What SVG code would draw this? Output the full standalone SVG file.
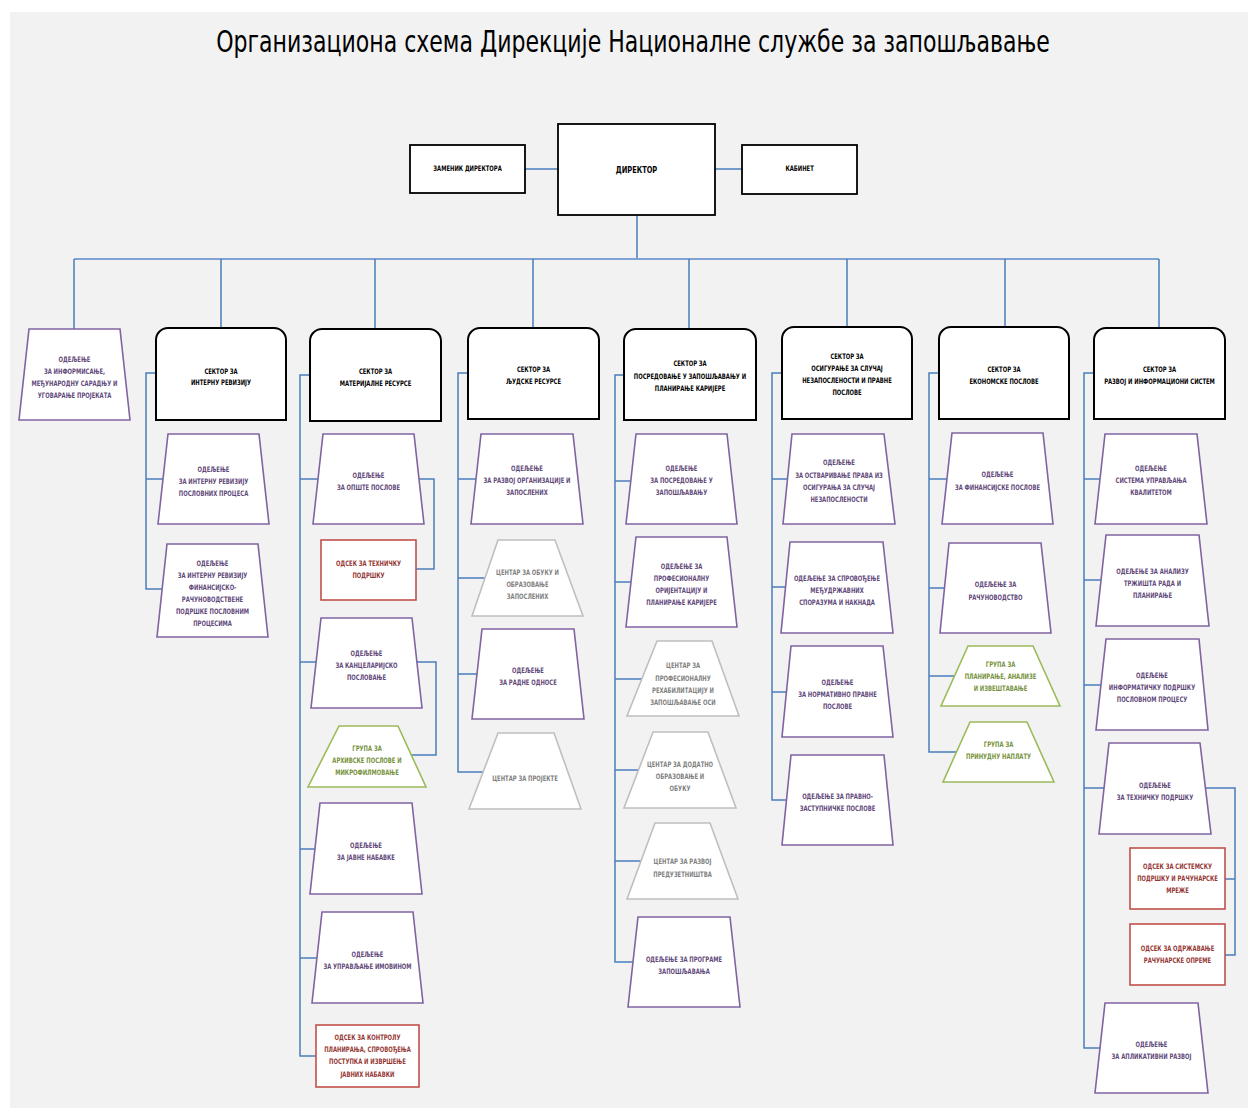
<svg xmlns="http://www.w3.org/2000/svg" width="1248" height="1108" viewBox="0 0 1248 1108">
<style>
.bg{fill:#f2f2f2}
.c{fill:none;stroke:#4a7ebb;stroke-width:1.5}
.bus{fill:none;stroke:#7fa3d3;stroke-width:2.2}
.box{fill:#fff;stroke:#000;stroke-width:1.8}
.sec{fill:#fff;stroke:#000;stroke-width:2}
.od{fill:#fff;stroke:#8064a2;stroke-width:1.6}
.gr{fill:#fff;stroke:#9bbb59;stroke-width:1.6}
.ct{fill:#fff;stroke:#bfbfbf;stroke-width:1.6}
.os{fill:#fff;stroke:#c0504d;stroke-width:1.6}
text{font-family:"DejaVu Sans Condensed","Liberation Sans",sans-serif;font-weight:bold;font-size:7.5px;text-anchor:middle;dominant-baseline:central;transform-box:fill-box;transform-origin:center;transform:scaleX(0.78)}
.tk{fill:#000}
.tp{fill:#5f497a}
.tg{fill:#76923c}
.tc{fill:#7f7f7f}
.tr{fill:#953734}
.title{font-weight:normal;font-size:31px;fill:#000;dominant-baseline:alphabetic;transform:scaleX(0.79)}
</style>
<rect class="bg" x="10" y="12" width="1238" height="1096"/>
<text class="title" x="633" y="52">Организациона схема Дирекције Националне службе за запошљавање</text>

<g id="connectors">
<path class="c" d="M525,169H558M715,169H742M637,215V259"/>
<path class="bus" d="M74,259H1159"/>
<path class="c" d="M74,259V329M221,259V328M375,259V329M533,259V328M689,259V329M847,259V327M1005,259V327M1159,259V328"/>
<path class="c" d="M156,373H146V589H165M146,479H166"/>
<path class="c" d="M310,375H300V1056H320M300,479H330M300,662H330M300,849H330M300,958H330"/>
<path class="c" d="M415,479H434V569H416M415,662H436V755H412"/>
<path class="c" d="M468,373H458V772H490M458,479H485M458,578H490M458,674H485"/>
<path class="c" d="M624,375H615V962H640M615,481H640M615,582H640M615,679H645M615,770H645M615,861H645"/>
<path class="c" d="M782,373H772V800H792M772,479H795M772,587H795M772,692H795"/>
<path class="c" d="M939,373H929V752H960M929,479H955M929,588H955M929,676H960"/>
<path class="c" d="M1094,373H1084V1048H1110M1084,479H1110M1084,580H1110M1084,685H1110M1084,788H1110"/>
<path class="c" d="M1205,788H1235V955H1225M1235,879H1225"/>
</g>

<g id="n_zamenik"><rect class="box" x="410" y="145" width="115" height="48"/><text class="tk" x="467.5" y="169">ЗАМЕНИК ДИРЕКТОРА</text></g>
<g id="n_direktor"><rect class="box" x="558" y="124" width="157" height="91"/><text class="tk" x="636.5" y="170" style="font-size:9.5px">ДИРЕКТОР</text></g>
<g id="n_kabinet"><rect class="box" x="742" y="145" width="115" height="49"/><text class="tk" x="799.5" y="169">КАБИНЕТ</text></g>

<g id="n_informisanje"><polygon class="od" points="29,329 120,329 130,420 19,420"/>
<text class="tp" x="74.5" y="360">ОДЕЉЕЊЕ</text><text class="tp" x="74.5" y="372">ЗА ИНФОРМИСАЊЕ,</text><text class="tp" x="74.5" y="384">МЕЂУНАРОДНУ САРАДЊУ И</text><text class="tp" x="74.5" y="396">УГОВАРАЊЕ ПРОЈЕКАТА</text></g>

<g id="s_revizija"><path class="sec" d="M156,420V340A12,12 0 0 1 168,328H274A12,12 0 0 1 286,340V420Z"/>
<text class="tk" x="221" y="372">СЕКТОР ЗА</text><text class="tk" x="221" y="383">ИНТЕРНУ РЕВИЗИЈУ</text></g>
<g id="n_rev1"><polygon class="od" points="168,434 259,434 269,524 158,524"/>
<text class="tp" x="213.5" y="470">ОДЕЉЕЊЕ</text><text class="tp" x="213.5" y="482">ЗА ИНТЕРНУ  РЕВИЗИЈУ</text><text class="tp" x="213.5" y="494">ПОСЛОВНИХ ПРОЦЕСА</text></g>
<g id="n_rev2"><polygon class="od" points="167,544 258,544 268,637 157,637"/>
<text class="tp" x="212.5" y="564">ОДЕЉЕЊЕ</text><text class="tp" x="212.5" y="576">ЗА ИНТЕРНУ  РЕВИЗИЈУ</text><text class="tp" x="212.5" y="588">ФИНАНСИЈСКО-</text><text class="tp" x="212.5" y="600">РАЧУНОВОДСТВЕНЕ</text><text class="tp" x="212.5" y="612">ПОДРШКЕ ПОСЛОВНИМ</text><text class="tp" x="212.5" y="624">ПРОЦЕСИМА</text></g>

<g id="s_materijalni"><path class="sec" d="M310,421V341A12,12 0 0 1 322,329H429A12,12 0 0 1 441,341V421Z"/>
<text class="tk" x="375.5" y="372">СЕКТОР ЗА</text><text class="tk" x="375.5" y="384">МАТЕРИЈАЛНЕ РЕСУРСЕ</text></g>
<g id="n_opste"><polygon class="od" points="323,434 414,434 424,524 313,524"/>
<text class="tp" x="368.5" y="476">ОДЕЉЕЊЕ</text><text class="tp" x="368.5" y="488">ЗА ОПШТЕ ПОСЛОВЕ</text></g>
<g id="n_tehnicka"><rect class="os" x="321" y="540" width="95" height="60"/>
<text class="tr" x="368.5" y="564">ОДСЕК ЗА ТЕХНИЧКУ</text><text class="tr" x="368.5" y="576">ПОДРШКУ</text></g>
<g id="n_kancelarijsko"><polygon class="od" points="321,618 412,618 422,708 311,708"/>
<text class="tp" x="366.5" y="654">ОДЕЉЕЊЕ</text><text class="tp" x="366.5" y="666">ЗА КАНЦЕЛАРИЈСКО</text><text class="tp" x="366.5" y="678">ПОСЛОВАЊЕ</text></g>
<g id="n_arhiv"><polygon class="gr" points="339,726 398,726 426,787 308,787"/>
<text class="tg" x="367" y="749">ГРУПА ЗА</text><text class="tg" x="367" y="761">АРХИВСКЕ ПОСЛОВЕ И</text><text class="tg" x="367" y="773">МИКРОФИЛМОВАЊЕ</text></g>
<g id="n_javne"><polygon class="od" points="320,803 412,803 422,894 310,894"/>
<text class="tp" x="366" y="846">ОДЕЉЕЊЕ</text><text class="tp" x="366" y="858">ЗА ЈАВНЕ НАБАВКЕ</text></g>
<g id="n_imovina"><polygon class="od" points="322,912 413,912 423,1003 312,1003"/>
<text class="tp" x="367.5" y="955">ОДЕЉЕЊЕ</text><text class="tp" x="367.5" y="967">ЗА УПРАВЉАЊЕ ИМОВИНОМ</text></g>
<g id="n_kontrola"><rect class="os" x="316" y="1025" width="103" height="62"/>
<text class="tr" x="367.5" y="1038">ОДСЕК ЗА КОНТРОЛУ</text><text class="tr" x="367.5" y="1050">ПЛАНИРАЊА, СПРОВОЂЕЊА</text><text class="tr" x="367.5" y="1062">ПОСТУПКА И ИЗВРШЕЊЕ</text><text class="tr" x="367.5" y="1075">ЈАВНИХ НАБАВКИ</text></g>

<g id="s_ljudski"><path class="sec" d="M468,419V340A12,12 0 0 1 480,328H587A12,12 0 0 1 599,340V419Z"/>
<text class="tk" x="533.5" y="370">СЕКТОР ЗА</text><text class="tk" x="533.5" y="382">ЉУДСКЕ РЕСУРСЕ</text></g>
<g id="n_razvojorg"><polygon class="od" points="481,434 573,434 583,524 471,524"/>
<text class="tp" x="527" y="469">ОДЕЉЕЊЕ</text><text class="tp" x="527" y="481">ЗА РАЗВОЈ ОРГАНИЗАЦИЈЕ И</text><text class="tp" x="527" y="493">ЗАПОСЛЕНИХ</text></g>
<g id="n_obuka"><polygon class="ct" points="498,540 555,540 583,616 472,616"/>
<text class="tc" x="527.5" y="573">ЦЕНТАР ЗА ОБУКУ И</text><text class="tc" x="527.5" y="585">ОБРАЗОВАЊЕ</text><text class="tc" x="527.5" y="597">ЗАПОСЛЕНИХ</text></g>
<g id="n_radne"><polygon class="od" points="482,629 574,629 584,719 472,719"/>
<text class="tp" x="528" y="671">ОДЕЉЕЊЕ</text><text class="tp" x="528" y="683">ЗА РАДНЕ ОДНОСЕ</text></g>
<g id="n_projekti"><polygon class="ct" points="498,733 554,733 581,809 469,809"/>
<text class="tc" x="525" y="779">ЦЕНТАР ЗА ПРОЈЕКТЕ</text></g>

<g id="s_posredovanje"><path class="sec" d="M624,420V341A12,12 0 0 1 636,329H744A12,12 0 0 1 756,341V420Z"/>
<text class="tk" x="690" y="364">СЕКТОР ЗА</text><text class="tk" x="690" y="377">ПОСРЕДОВАЊЕ У ЗАПОШЉАВАЊУ И</text><text class="tk" x="690" y="389">ПЛАНИРАЊЕ КАРИЈЕРЕ</text></g>
<g id="n_posred"><polygon class="od" points="636,434 727,434 737,524 626,524"/>
<text class="tp" x="681.5" y="469">ОДЕЉЕЊЕ</text><text class="tp" x="681.5" y="481">ЗА ПОСРЕДОВАЊЕ  У</text><text class="tp" x="681.5" y="493">ЗАПОШЉАВАЊУ</text></g>
<g id="n_profor"><polygon class="od" points="636,537 727,537 737,627 626,627"/>
<text class="tp" x="681.5" y="567">ОДЕЉЕЊЕ ЗА</text><text class="tp" x="681.5" y="579">ПРОФЕСИОНАЛНУ</text><text class="tp" x="681.5" y="591">ОРИЈЕНТАЦИЈУ И</text><text class="tp" x="681.5" y="603">ПЛАНИРАЊЕ КАРИЈЕРЕ</text></g>
<g id="n_rehab"><polygon class="ct" points="657,641 712,641 739,716 627,716"/>
<text class="tc" x="683" y="666">ЦЕНТАР ЗА</text><text class="tc" x="683" y="679">ПРОФЕСИОНАЛНУ</text><text class="tc" x="683" y="691">РЕХАБИЛИТАЦИЈУ И</text><text class="tc" x="683" y="703">ЗАПОШЉАВАЊЕ ОСИ</text></g>
<g id="n_dodatno"><polygon class="ct" points="653,732 708,732 736,808 624,808"/>
<text class="tc" x="680" y="765">ЦЕНТАР ЗА ДОДАТНО</text><text class="tc" x="680" y="777">ОБРАЗОВАЊЕ И</text><text class="tc" x="680" y="789">ОБУКУ</text></g>
<g id="n_preduz"><polygon class="ct" points="655,823 710,823 738,899 627,899"/>
<text class="tc" x="682.5" y="862">ЦЕНТАР ЗА РАЗВОЈ</text><text class="tc" x="682.5" y="875">ПРЕДУЗЕТНИШТВА</text></g>
<g id="n_programe"><polygon class="od" points="638,917 730,917 740,1007 628,1007"/>
<text class="tp" x="684" y="960">ОДЕЉЕЊЕ ЗА ПРОГРАМЕ</text><text class="tp" x="684" y="972">ЗАПОШЉАВАЊА</text></g>

<g id="s_osiguranje"><path class="sec" d="M782,419V339A12,12 0 0 1 794,327H900A12,12 0 0 1 912,339V419Z"/>
<text class="tk" x="847" y="357">СЕКТОР ЗА</text><text class="tk" x="847" y="369">ОСИГУРАЊЕ ЗА СЛУЧАЈ</text><text class="tk" x="847" y="381">НЕЗАПОСЛЕНОСТИ И ПРАВНЕ</text><text class="tk" x="847" y="393">ПОСЛОВЕ</text></g>
<g id="n_ostvarivanje"><polygon class="od" points="792,434 884,434 895,524 783,524"/>
<text class="tp" x="839" y="463">ОДЕЉЕЊЕ</text><text class="tp" x="839" y="476">ЗА ОСТВАРИВАЊЕ ПРАВА ИЗ</text><text class="tp" x="839" y="488">ОСИГУРАЊА ЗА СЛУЧАЈ</text><text class="tp" x="839" y="500">НЕЗАПОСЛЕНОСТИ</text></g>
<g id="n_sporazumi"><polygon class="od" points="790,542 883,542 893,633 781,633"/>
<text class="tp" x="837" y="579">ОДЕЉЕЊЕ ЗА СПРОВОЂЕЊЕ</text><text class="tp" x="837" y="591">МЕЂУДРЖАВНИХ</text><text class="tp" x="837" y="603">СПОРАЗУМА И НАКНАДА</text></g>
<g id="n_normativno"><polygon class="od" points="791,646 883,646 893,737 782,737"/>
<text class="tp" x="837.5" y="683">ОДЕЉЕЊЕ</text><text class="tp" x="837.5" y="695">ЗА НОРМАТИВНО ПРАВНЕ</text><text class="tp" x="837.5" y="707">ПОСЛОВЕ</text></g>
<g id="n_zastupnicke"><polygon class="od" points="791,755 884,755 893,845 782,845"/>
<text class="tp" x="837.5" y="797">ОДЕЉЕЊЕ ЗА ПРАВНО-</text><text class="tp" x="837.5" y="809">ЗАСТУПНИЧКЕ ПОСЛОВЕ</text></g>

<g id="s_ekonomski"><path class="sec" d="M939,419V339A12,12 0 0 1 951,327H1057A12,12 0 0 1 1069,339V419Z"/>
<text class="tk" x="1004" y="370">СЕКТОР ЗА</text><text class="tk" x="1004" y="382">ЕКОНОМСКЕ ПОСЛОВЕ</text></g>
<g id="n_finansijske"><polygon class="od" points="952,433 1043,433 1053,524 942,524"/>
<text class="tp" x="997.5" y="475">ОДЕЉЕЊЕ</text><text class="tp" x="997.5" y="488">ЗА ФИНАНСИЈСКЕ  ПОСЛОВЕ</text></g>
<g id="n_racunovodstvo"><polygon class="od" points="949,543 1041,543 1051,633 940,633"/>
<text class="tp" x="995.5" y="585">ОДЕЉЕЊЕ ЗА</text><text class="tp" x="995.5" y="598">РАЧУНОВОДСТВО</text></g>
<g id="n_planiranje"><polygon class="gr" points="968,646 1033,646 1060,706 941,706"/>
<text class="tg" x="1000.5" y="665">ГРУПА ЗА</text><text class="tg" x="1000.5" y="677">ПЛАНИРАЊЕ, АНАЛИЗЕ</text><text class="tg" x="1000.5" y="689">И ИЗВЕШТАВАЊЕ</text></g>
<g id="n_naplata"><polygon class="gr" points="970,722 1027,722 1054,782 943,782"/>
<text class="tg" x="998.5" y="745">ГРУПА ЗА</text><text class="tg" x="998.5" y="757">ПРИНУДНУ НАПЛАТУ</text></g>

<g id="s_razvoj"><path class="sec" d="M1094,419V340A12,12 0 0 1 1106,328H1213A12,12 0 0 1 1225,340V419Z"/>
<text class="tk" x="1159.5" y="370">СЕКТОР ЗА</text><text class="tk" x="1159.5" y="382">РАЗВОЈ И ИНФОРМАЦИОНИ СИСТЕМ</text></g>
<g id="n_kvalitet"><polygon class="od" points="1105,434 1197,434 1207,524 1095,524"/>
<text class="tp" x="1151" y="469">ОДЕЉЕЊЕ</text><text class="tp" x="1151" y="481">СИСТЕМА УПРАВЉАЊА</text><text class="tp" x="1151" y="493">КВАЛИТЕТОМ</text></g>
<g id="n_trziste"><polygon class="od" points="1106,535 1199,535 1209,626 1096,626"/>
<text class="tp" x="1152.5" y="572">ОДЕЉЕЊЕ ЗА АНАЛИЗУ</text><text class="tp" x="1152.5" y="584">ТРЖИШТА РАДА И</text><text class="tp" x="1152.5" y="596">ПЛАНИРАЊЕ</text></g>
<g id="n_informaticka"><polygon class="od" points="1106,639 1199,639 1208,730 1096,730"/>
<text class="tp" x="1152" y="676">ОДЕЉЕЊЕ</text><text class="tp" x="1152" y="688">ИНФОРМАТИЧКУ ПОДРШКУ</text><text class="tp" x="1152" y="700">ПОСЛОВНОМ ПРОЦЕСУ</text></g>
<g id="n_tehpodrska"><polygon class="od" points="1109,743 1200,743 1211,834 1099,834"/>
<text class="tp" x="1155" y="786">ОДЕЉЕЊЕ</text><text class="tp" x="1155" y="798">ЗА ТЕХНИЧКУ ПОДРШКУ</text></g>
<g id="n_sistemska"><rect class="os" x="1130" y="848" width="95" height="61"/>
<text class="tr" x="1177.5" y="867">ОДСЕК ЗА СИСТЕМСКУ</text><text class="tr" x="1177.5" y="879">ПОДРШКУ И РАЧУНАРСКЕ</text><text class="tr" x="1177.5" y="891">МРЕЖЕ</text></g>
<g id="n_odrzavanje"><rect class="os" x="1130" y="924" width="95" height="61"/>
<text class="tr" x="1177.5" y="949">ОДСЕК ЗА ОДРЖАВАЊЕ</text><text class="tr" x="1177.5" y="961">РАЧУНАРСКЕ ОПРЕМЕ</text></g>
<g id="n_aplikativni"><polygon class="od" points="1105,1003 1198,1003 1208,1093 1095,1093"/>
<text class="tp" x="1151.5" y="1045">ОДЕЉЕЊЕ</text><text class="tp" x="1151.5" y="1057">ЗА АПЛИКАТИВНИ РАЗВОЈ</text></g>
</svg>
